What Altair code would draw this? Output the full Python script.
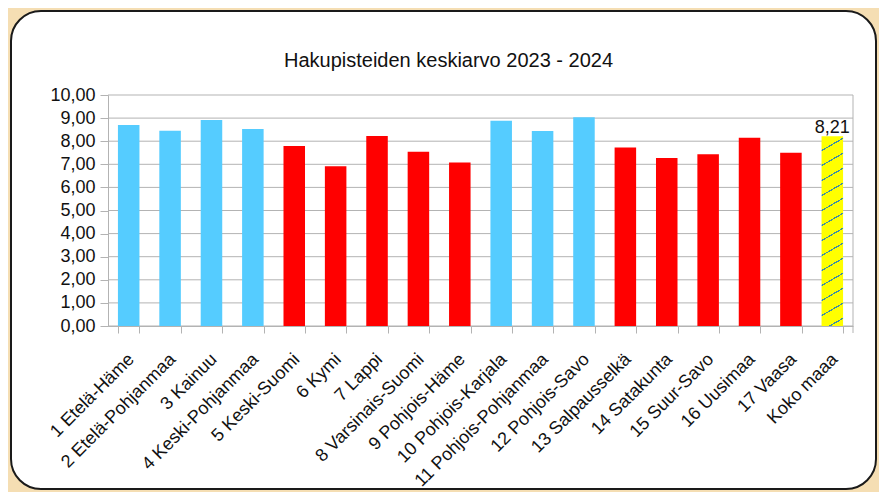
import altair as alt
import pandas as pd

FONT = "Liberation Sans"

categories = [
    "1 Etelä-Häme", "2 Etelä-Pohjanmaa", "3 Kainuu", "4 Keski-Pohjanmaa",
    "5 Keski-Suomi", "6 Kymi", "7 Lappi", "8 Varsinais-Suomi",
    "9 Pohjois-Häme", "10 Pohjois-Karjala", "11 Pohjois-Pohjanmaa",
    "12 Pohjois-Savo", "13 Salpausselkä", "14 Satakunta", "15 Suur-Savo",
    "16 Uusimaa", "17 Vaasa", "Koko maaa",
]
values = [8.70, 8.45, 8.92, 8.53, 7.79, 6.92, 8.22, 7.54, 7.08,
          8.88, 8.44, 9.04, 7.73, 7.27, 7.43, 8.15, 7.50, 8.21]
groups = ["sin", "sin", "sin", "sin", "pun", "pun", "pun", "pun", "pun",
          "sin", "sin", "sin", "pun", "pun", "pun", "pun", "pun", "koko"]
y_ticks = list(range(11))

W, H = 745, 231
PAD = {"left": 100, "top": 87, "right": 26, "bottom": 166}

df = pd.DataFrame({"cat": categories, "value": values, "group": groups})
ticks_df = pd.DataFrame({"v": y_ticks})

# ---- hatch gradient (style only) ----
step = W / len(categories)
bw = step * 0.52
bh = values[-1] / 10 * H
slope, period = 0.58, 15.0
L = slope * bw + bh
lam = L / ((slope * bw) ** 2 + bh ** 2)
gx2, gy2 = slope * bw * lam, bh * lam
dt = period / L
stops = []
k = 0
while k * dt < 1:
    a = k * dt
    b = min(1.0, a + dt * 0.91)
    c = min(1.0, a + dt)
    stops += [alt.GradientStop(color="#ffff00", offset=a),
              alt.GradientStop(color="#ffff00", offset=b),
              alt.GradientStop(color="#3f8fa0", offset=b),
              alt.GradientStop(color="#3f8fa0", offset=c)]
    k += 1
hatch = alt.LinearGradient(gradient="linear", stops=stops,
                           x1=0, y1=0, x2=gx2, y2=gy2)

x_enc = alt.X(
    "cat:N", sort=categories, title=None,
    scale=alt.Scale(paddingInner=0.48, paddingOuter=0.24),
    axis=alt.Axis(labelAngle=315, labelAlign="right", labelBaseline="top",
                  labelFontSize=18, labelFont=FONT, labelColor="#111",
                  labelPadding=17, labelOffset=-4, labelLimit=400,
                  domainColor="#b3b3b3", tickColor="#b3b3b3", tickSize=7,
                  tickBand="extent", zindex=1, grid=False),
)
y_axis = alt.Axis(values=y_ticks, grid=False, title=None,
                  labelExpr="replace(format(datum.value, '.2f'), '.', ',')",
                  labelFontSize=18, labelFont=FONT, labelColor="#111",
                  labelPadding=5, domainColor="#b3b3b3", tickColor="#b3b3b3",
                  tickSize=8, zindex=1)
y_scale = alt.Scale(domain=[0, 10], nice=False)

panel = alt.Chart(pd.DataFrame({"k": [0]})).mark_rect(
    fill="white", stroke="#1a1a1a", strokeWidth=2, cornerRadius=30
).encode(x=alt.value(-97), x2=alt.value(W + 23),
         y=alt.value(-84), y2=alt.value(H + 163))

grid = alt.Chart(ticks_df).mark_rule(color="#b3b3b3", strokeWidth=1).encode(
    y=alt.Y("v:Q", scale=y_scale, axis=y_axis)
)

right_border = alt.Chart(pd.DataFrame({"k": [0]})).mark_rule(
    color="#b3b3b3", strokeWidth=1
).encode(x=alt.value(W), y=alt.value(0), y2=alt.value(H + 7))

bars = alt.Chart(df).transform_filter("datum.group != 'koko'").mark_bar().encode(
    x=x_enc,
    y=alt.Y("value:Q", scale=y_scale, axis=y_axis),
    color=alt.Color("group:N", legend=None,
                    scale=alt.Scale(domain=["sin", "pun"],
                                    range=["#55ccff", "#ff0000"])),
)

koko = alt.Chart(df).transform_filter("datum.group == 'koko'").mark_bar(
    fill=hatch
).encode(x=x_enc, y=alt.Y("value:Q", scale=y_scale, axis=y_axis))

label = alt.Chart(df).transform_filter("datum.group == 'koko'").transform_calculate(
    lbl="replace(format(datum.value, '.2f'), '.', ',')"
).mark_text(font=FONT, fontSize=18, color="#111", baseline="bottom", dy=1).encode(
    x=x_enc, y=alt.Y("value:Q", scale=y_scale, axis=y_axis), text="lbl:N"
)

chart = alt.layer(panel, grid, bars, koko, label, right_border).properties(
    width=W, height=H,
    title=alt.Title("Hakupisteiden keskiarvo 2023 - 2024", font=FONT,
                    fontSize=20, fontWeight="normal", color="#111",
                    anchor="middle", frame="group", baseline="alphabetic",
                    dx=-32, offset=-77),
    autosize=alt.AutoSizeParams(type="none"),
    padding=PAD,
    background="#f5deb3",
).configure_view(stroke=None)

chart.save("out.html", embed_options={"renderer": "svg", "actions": False})
